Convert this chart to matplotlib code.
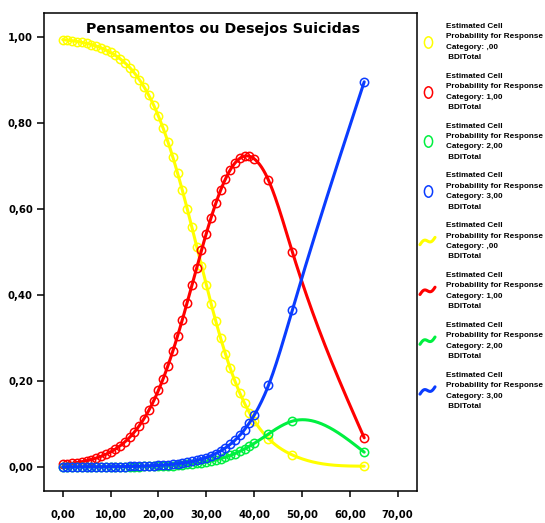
import numpy as np
import matplotlib
matplotlib.use("Agg")
import matplotlib.pyplot as plt
from matplotlib.lines import Line2D
from matplotlib.legend_handler import HandlerBase
from matplotlib.path import Path
from matplotlib.transforms import Affine2D
from matplotlib.font_manager import FontProperties

# BDI total scores (predictor) and estimated cell probabilities per response category
bdi_total = [0, 1, 2, 3, 4, 5, 6, 7, 8, 9, 10, 11, 12, 13, 14, 15, 16, 17, 18, 19, 20,
             21, 22, 23, 24, 25, 26, 27, 28, 29, 30, 31, 32, 33, 34, 35, 36, 37, 38, 39, 40,
             43, 48, 63]

p_cat0 = [0.9939, 0.9927, 0.9913, 0.9895, 0.9875, 0.9851, 0.9822, 0.9788, 0.9747, 0.9698,
          0.9641, 0.9573, 0.9493, 0.9399, 0.9289, 0.9161, 0.9011, 0.8839, 0.8641, 0.8416,
          0.8161, 0.7875, 0.7558, 0.7211, 0.6835, 0.6433, 0.6011, 0.5572, 0.5125, 0.4675,
          0.4231, 0.3799, 0.3385, 0.2994, 0.2631, 0.2297, 0.1994, 0.1722, 0.1480, 0.1267,
          0.1081, 0.0660, 0.0279, 0.0019]

p_cat1 = [0.0060, 0.0071, 0.0085, 0.0102, 0.0122, 0.0145, 0.0173, 0.0207, 0.0247, 0.0294,
          0.0350, 0.0416, 0.0493, 0.0585, 0.0691, 0.0816, 0.0961, 0.1127, 0.1319, 0.1536,
          0.1782, 0.2056, 0.2359, 0.2691, 0.3047, 0.3426, 0.3821, 0.4227, 0.4636, 0.5040,
          0.5430, 0.5798, 0.6136, 0.6438, 0.6697, 0.6909, 0.7070, 0.7177, 0.7230, 0.7227,
          0.7168, 0.6670, 0.4996, 0.0679]

p_cat2 = [0.0001, 0.0001, 0.0001, 0.0001, 0.0001, 0.0001, 0.0002, 0.0002, 0.0002, 0.0003,
          0.0003, 0.0004, 0.0005, 0.0006, 0.0007, 0.0008, 0.0010, 0.0012, 0.0014, 0.0017,
          0.0020, 0.0024, 0.0029, 0.0035, 0.0042, 0.0050, 0.0059, 0.0070, 0.0084, 0.0099,
          0.0118, 0.0140, 0.0165, 0.0195, 0.0229, 0.0268, 0.0313, 0.0363, 0.0419, 0.0481,
          0.0548, 0.0770, 0.1067, 0.0345]

p_cat3 = [0.0001, 0.0001, 0.0001, 0.0002, 0.0002, 0.0003, 0.0003, 0.0004, 0.0004, 0.0005,
          0.0006, 0.0007, 0.0009, 0.0011, 0.0013, 0.0015, 0.0018, 0.0022, 0.0026, 0.0031,
          0.0037, 0.0045, 0.0053, 0.0064, 0.0076, 0.0091, 0.0109, 0.0130, 0.0155, 0.0185,
          0.0221, 0.0263, 0.0314, 0.0373, 0.0444, 0.0527, 0.0624, 0.0738, 0.0871, 0.1025,
          0.1203, 0.1900, 0.3659, 0.8957]

categories = [",00", "1,00", "2,00", "3,00"]
series = [p_cat0, p_cat1, p_cat2, p_cat3]
colors = ["#FFFF00", "#FF0000", "#00F040", "#0A3CFF"]

x_ticks = [0, 10, 20, 30, 40, 50, 60, 70]
x_tick_labels = ["0,00", "10,00", "20,00", "30,00", "40,00", "50,00", "60,00", "70,00"]
y_ticks = [0.0, 0.2, 0.4, 0.6, 0.8, 1.0]
y_tick_labels = ["0,00", "0,20", "0,40", "0,60", "0,80", "1,00"]

title = "Pensamentos ou Desejos Suicidas"


def natural_spline(x, y, xs):
    """Natural cubic spline through (x, y), evaluated at xs."""
    x = np.asarray(x, float)
    y = np.asarray(y, float)
    n = len(x)
    h = np.diff(x)
    A = np.zeros((n, n))
    r = np.zeros(n)
    A[0, 0] = A[-1, -1] = 1.0
    for i in range(1, n - 1):
        A[i, i - 1] = h[i - 1]
        A[i, i] = 2 * (h[i - 1] + h[i])
        A[i, i + 1] = h[i]
        r[i] = 6 * ((y[i + 1] - y[i]) / h[i] - (y[i] - y[i - 1]) / h[i - 1])
    M = np.linalg.solve(A, r)
    idx = np.clip(np.searchsorted(x, xs) - 1, 0, n - 2)
    x0, x1 = x[idx], x[idx + 1]
    hh = x1 - x0
    a = (x1 - xs) / hh
    b = (xs - x0) / hh
    return (a * y[idx] + b * y[idx + 1]
            + ((a ** 3 - a) * M[idx] + (b ** 3 - b) * M[idx + 1]) * hh ** 2 / 6)


class WaveHandler(HandlerBase):
    """Small wavy line used as the legend key for interpolation lines."""

    def create_artists(self, legend, orig_handle, xdescent, ydescent,
                       width, height, fontsize, trans):
        t = np.linspace(0, 1, 50)
        xs = -xdescent + t * width
        yc = -ydescent + height / 2
        ys = yc + fontsize * (0.45 * (2 * t - 1) + 0.3 * np.sin(2 * np.pi * t))
        line = Line2D(xs, ys, color=orig_handle.get_color(),
                      lw=orig_handle.get_linewidth(), solid_capstyle="round")
        line.set_transform(trans)
        return [line]


W, H = 545, 523
fig = plt.figure(figsize=(W / 100, H / 100), dpi=100)
fig.patch.set_facecolor("white")

left, right, top, bottom = 44, 417, 13, 491
ax = fig.add_axes([left / W, 1 - bottom / H, (right - left) / W, (bottom - top) / H])

xs = np.linspace(min(bdi_total), max(bdi_total), 800)
for i, (vals, col) in enumerate(zip(series, colors)):
    ax.plot(xs, natural_spline(bdi_total, vals, xs), color=col, lw=2.2,
            solid_capstyle="round", zorder=3 + 2 * i)
    ax.plot(bdi_total, vals, linestyle="none", marker="o", ms=6.0, mew=1.1,
            mfc="none", mec=col, zorder=2 + 2 * i)

ax.set_xlim(-3.91, 74.03)
ax.set_ylim(-0.0558, 1.0558)

tick_font = FontProperties(family="DejaVu Sans", weight="bold", size=7.3)
ax.set_xticks(x_ticks)
ax.set_xticklabels(x_tick_labels, fontproperties=tick_font)
ax.set_yticks(y_ticks)
ax.set_yticklabels(y_tick_labels, fontproperties=tick_font)
ax.tick_params(axis="y", direction="out", length=5, width=1.1, pad=3, colors="black")
ax.tick_params(axis="x", direction="out", length=4, width=1.1, pad=10, colors="black")
for sp in ax.spines.values():
    sp.set_linewidth(1.1)
    sp.set_color("black")

fig.text(223.5 / W, 1 - 29 / H, title, ha="center", va="center",
         fontproperties=FontProperties(family="DejaVu Sans", weight="bold", size=10.3))

# Legend: marker keys for the points, wavy keys for the lines
ellipse = Path.unit_circle().transformed(Affine2D().scale(0.72, 1.0))
marker_handles = [Line2D([], [], linestyle="none", marker=ellipse, ms=8.2, mew=1.1,
                         mfc="none", mec=c) for c in colors]
wave_handles = [Line2D([], [], color=c, lw=2.2) for c in colors]
labels = [f"Estimated Cell\nProbability for Response\nCategory: {c}\n BDITotal"
          for c in categories] * 2

handler_map = {h: WaveHandler() for h in wave_handles}
leg = fig.legend(marker_handles + wave_handles, labels, loc="upper left",
                 bbox_to_anchor=(420 / W, 1 - 23 / H), frameon=False, numpoints=1,
                 prop=FontProperties(family="Liberation Sans", weight="bold", size=5.85),
                 handlelength=1.85, handletextpad=1.4, labelspacing=1.43,
                 borderpad=0, borderaxespad=0, handler_map=handler_map)
for t in leg.get_texts():
    t.set_linespacing(1.68)

fig.savefig("out.png", dpi=100, facecolor="white")
